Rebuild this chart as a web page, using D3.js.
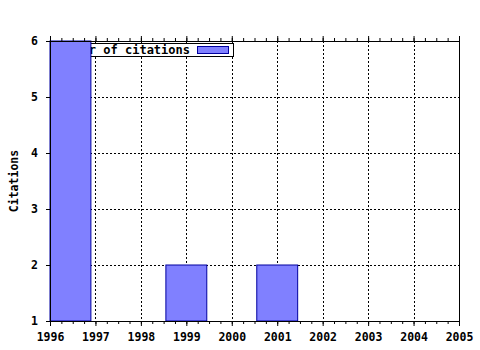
<!DOCTYPE html>
<html>
<head>
<meta charset="utf-8">
<script src="https://cdn.jsdelivr.net/npm/d3@7"></script>
<style>
  body { margin: 0; background: #fff; }
  text { font-family: "DejaVu Sans Mono", monospace; font-weight: bold; font-size: 11.5px; }
</style>
</head>
<body>
<div class="chart"></div>
<script>
// data
var years = [1996, 1999, 2001];
var citations = [6, 2, 2];
var xTicks = [1996, 1997, 1998, 1999, 2000, 2001, 2002, 2003, 2004, 2005];
var yTicks = [1, 2, 3, 4, 5, 6];
var seriesName = "Number of citations";

var width = 480, height = 350;
// plot area edges (note: "top" is taken by window.top)
var pLeft = 50, pRight = 459, pTop = 41, pBottom = 321;

var svg = d3.select('.chart').append('svg')
    .attr('width', width)
    .attr('height', height);

var x = d3.scaleLinear().domain([1996, 2005]).range([pLeft, pRight]);
var y = d3.scaleLinear().domain([1, 6]).range([pBottom, pTop]);

// grid lines (dotted)
xTicks.slice(1, -1).forEach(function (t) {
    svg.append('line')
        .attr('x1', Math.round(x(t)) + 0.5).attr('x2', Math.round(x(t)) + 0.5)
        .attr('y1', pTop).attr('y2', pBottom)
        .style('stroke', '#000').style('stroke-dasharray', '2,2');
});
yTicks.slice(1, -1).forEach(function (t) {
    svg.append('line')
        .attr('x1', pLeft).attr('x2', pRight)
        .attr('y1', Math.round(y(t)) + 0.5).attr('y2', Math.round(y(t)) + 0.5)
        .style('stroke', '#000').style('stroke-dasharray', '2,2');
});

// legend (drawn under the bars, the first bar hides part of it)
var lg = svg.append('g');
lg.append('rect')
    .attr('x', 52.5).attr('y', 43.5).attr('width', 181).attr('height', 13)
    .style('fill', '#fff').style('stroke', '#000');
lg.append('text')
    .attr('x', 190).attr('y', 54)
    .attr('text-anchor', 'end')
    .style('font-size', '12px')
    .text(seriesName);
lg.append('rect')
    .attr('x', 197.5).attr('y', 46.5).attr('width', 31).attr('height', 7)
    .style('fill', '#8080ff').style('stroke', '#0000a0');

// bars
var barW = (x(1997) - x(1996)) * 0.9;
svg.selectAll('.bar').data(years).enter().append('rect')
    .attr('class', 'bar')
    .attr('x', function (d) { return Math.max(x(d) - barW / 2, pLeft); })
    .attr('y', function (d, i) { return y(citations[i]); })
    .attr('width', barW)
    .attr('height', function (d, i) { return pBottom - y(citations[i]); })
    .style('fill', '#8080ff')
    .style('stroke', '#0000a0')
    .style('stroke-width', 1);

// axes
var xMinor = d3.range(1996, 2005.01, 0.25);
svg.append('g').attr('transform', 'translate(0,' + pBottom + ')')
    .call(d3.axisBottom(x).tickValues(xMinor).tickSize(3).tickFormat(''));
svg.append('g').attr('transform', 'translate(0,' + pBottom + ')')
    .call(d3.axisBottom(x).tickValues(xTicks).tickSize(5).tickPadding(7).tickFormat(d3.format('d')));
svg.append('g').attr('transform', 'translate(0,' + pTop + ')')
    .call(d3.axisTop(x).tickValues(xMinor).tickSize(3).tickFormat(''));
svg.append('g').attr('transform', 'translate(0,' + pTop + ')')
    .call(d3.axisTop(x).tickValues(xTicks).tickSize(5).tickFormat(''));
svg.append('g').attr('transform', 'translate(' + pLeft + ',0)')
    .call(d3.axisLeft(y).tickValues(yTicks).tickSize(4).tickPadding(8).tickFormat(d3.format('d')));
svg.append('line')
    .attr('x1', pRight + 0.5).attr('x2', pRight + 0.5).attr('y1', pTop).attr('y2', pBottom)
    .style('stroke', '#000');

svg.selectAll('.domain').style('stroke', '#000');
svg.selectAll('.tick text').style('font-size', '11.5px').style('font-family', '"DejaVu Sans Mono", monospace').style('font-weight', 'bold');

// y label
svg.append('text')
    .attr('transform', 'translate(18,' + ((pTop + pBottom) / 2) + ') rotate(-90)')
    .attr('text-anchor', 'middle')
    .text('Citations');
</script>
</body>
</html>
